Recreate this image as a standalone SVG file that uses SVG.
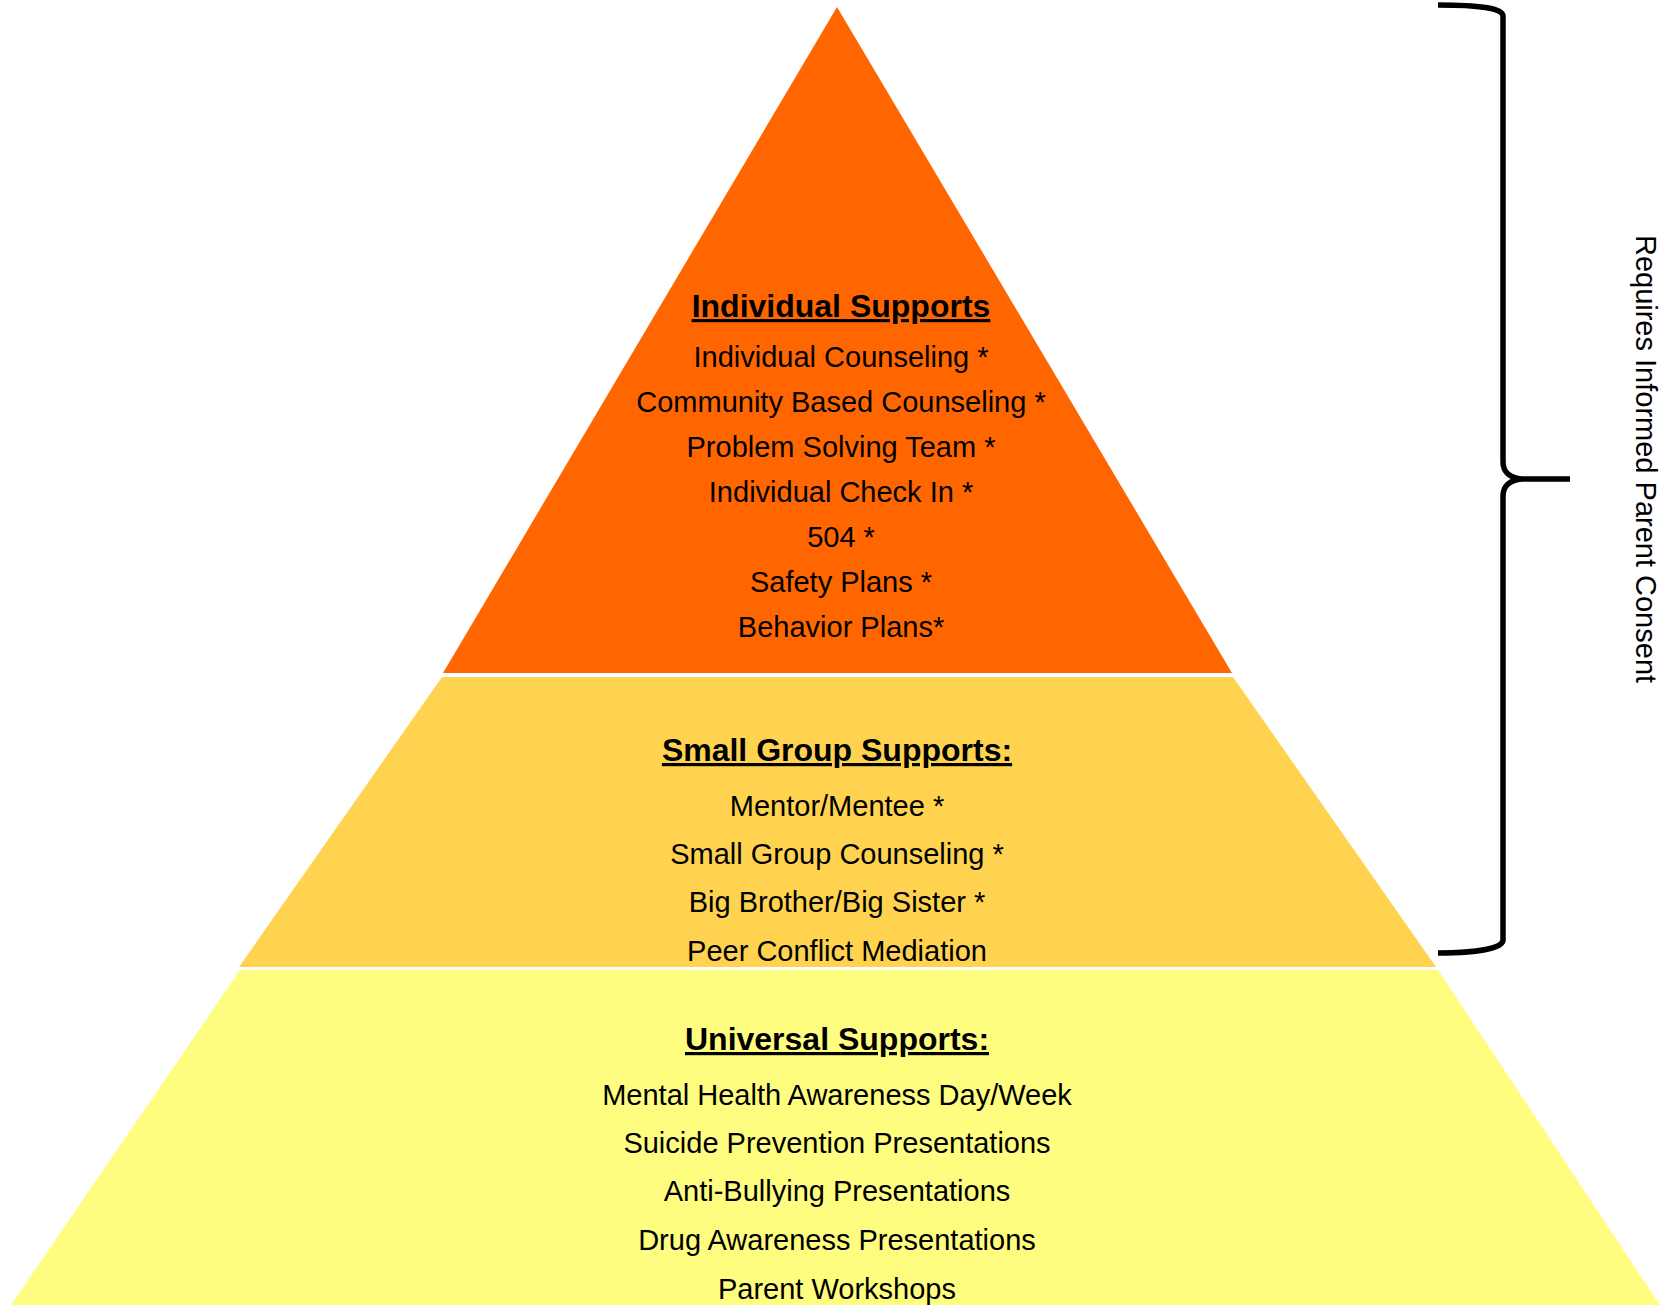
<svg xmlns="http://www.w3.org/2000/svg" width="1660" height="1307" viewBox="0 0 1660 1307">
<style>
text{font-family:"Liberation Sans",Arial,sans-serif;fill:#000;text-anchor:middle}
.b{font-size:29px}
.h{font-size:32px;font-weight:bold;text-decoration:underline}
.v{font-size:29px}
</style>
<rect width="1660" height="1307" fill="#fff"/>
<g id="tier-individual">
<polygon points="837,7 443,673 1232,673" fill="#FF6600"/>
<text class="h" x="841" y="317">Individual Supports</text>
<text class="b" x="841" y="367">Individual Counseling *</text>
<text class="b" x="841" y="412">Community Based Counseling *</text>
<text class="b" x="841" y="457">Problem Solving Team *</text>
<text class="b" x="841" y="502">Individual Check In *</text>
<text class="b" x="841" y="547">504 *</text>
<text class="b" x="841" y="592">Safety Plans *</text>
<text class="b" x="841" y="637">Behavior Plans*</text>
</g>
<g id="tier-small-group">
<polygon points="442,677 1233,677 1436,967 239,967" fill="#FFD34F"/>
<text class="h" x="837" y="761">Small Group Supports:</text>
<text class="b" x="837" y="816">Mentor/Mentee *</text>
<text class="b" x="837" y="864">Small Group Counseling *</text>
<text class="b" x="837" y="912">Big Brother/Big Sister *</text>
<text class="b" x="837" y="961">Peer Conflict Mediation</text>
</g>
<g id="tier-universal">
<polygon points="240,970 1438,970 1660,1305 11,1305" fill="#FFFD7F"/>
<text class="h" x="837" y="1050">Universal Supports:</text>
<text class="b" x="837" y="1105">Mental Health Awareness Day/Week</text>
<text class="b" x="837" y="1153">Suicide Prevention Presentations</text>
<text class="b" x="837" y="1201">Anti-Bullying Presentations</text>
<text class="b" x="837" y="1250">Drug Awareness Presentations</text>
<text class="b" x="837" y="1299">Parent Workshops</text>
</g>
<g id="connectors">
<path d="M1438,5 C1478,5 1503,8 1503,16 L1503,462 C1503,472 1510,478 1522,479 L1570,479 M1522,479 C1510,480 1503,486 1503,496 L1503,940 C1503,948 1478,953 1438,953" fill="none" stroke="#000" stroke-width="5.5"/>
</g>
<g id="label-consent">
<text class="v" transform="translate(1636,459) rotate(90)" x="0" y="0">Requires Informed Parent Consent</text>
</g>
</svg>
